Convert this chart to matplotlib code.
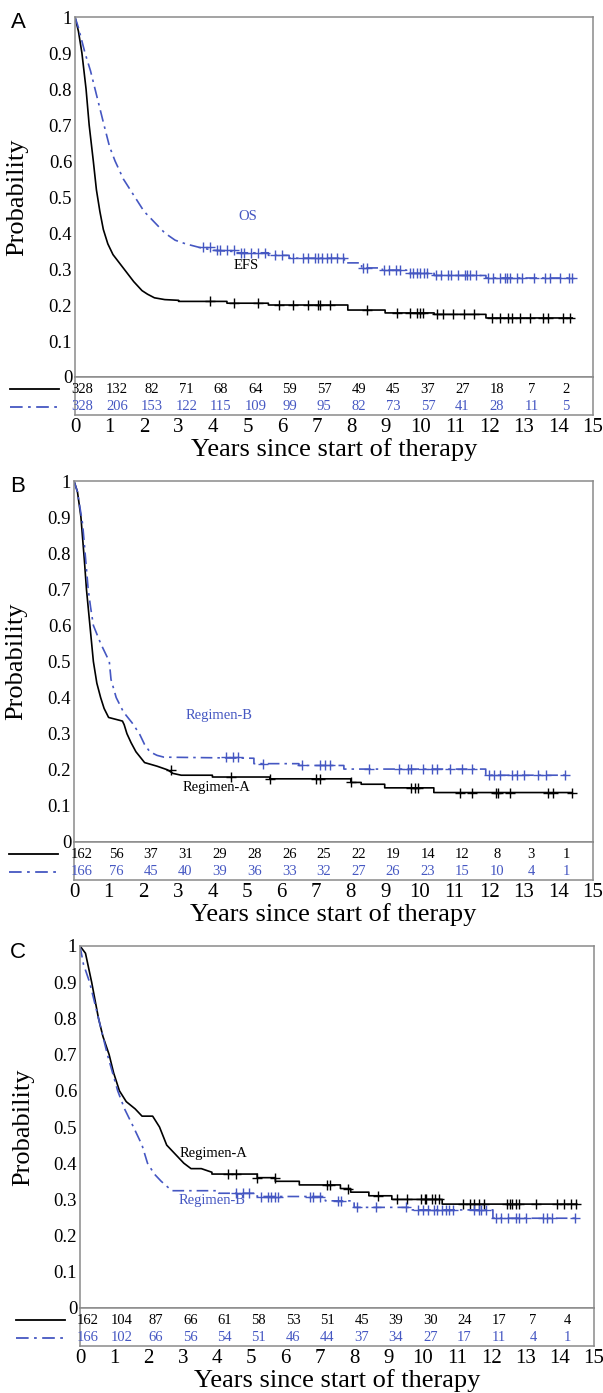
import matplotlib
matplotlib.use('Agg')
import matplotlib.pyplot as plt
import numpy as np
from matplotlib.lines import Line2D
from matplotlib.ticker import FuncFormatter

plt.rcParams['font.family'] = ['Liberation Serif', 'DejaVu Serif']

BLUE = '#4557c2'
GRAY = '#8a8a8a'
W, H = 603, 1393

years = list(range(15))

# ---- panel A : EFS / OS ----
efs_t = [0, 0.1, 0.2, 0.32, 0.41, 0.53, 0.62, 0.72, 0.82, 0.95, 1.1, 1.3, 1.5, 1.7, 1.94, 2.1, 2.3, 2.6,
         3.0, 3.0, 4.4, 4.4, 5.6, 5.6, 7.9, 7.9, 8.98, 8.98, 10.4, 10.4, 11.9, 11.9, 14.4]
efs_s = [1, 0.96, 0.9, 0.8, 0.7, 0.6, 0.52, 0.46, 0.41, 0.37, 0.34, 0.315, 0.29, 0.265, 0.24, 0.23, 0.22, 0.215,
         0.213, 0.21, 0.21, 0.205, 0.205, 0.2, 0.2, 0.186, 0.186, 0.178, 0.178, 0.174, 0.174, 0.164, 0.164]
efs_cens = [3.9, 4.6, 5.3, 5.9, 6.3, 6.76, 7.05, 7.1, 7.38, 8.45, 9.32, 9.7, 9.89, 9.99, 10.09, 10.47, 10.67,
            10.96, 11.25, 11.54, 12.07, 12.31, 12.55, 12.65, 12.89, 13.18, 13.56, 13.71, 14.14, 14.34]

os_t = [0, 0.1, 0.29, 0.45, 0.58, 0.84, 1.0, 1.16, 1.4, 1.6, 1.8, 2.0, 2.3, 2.6, 2.9, 3.2, 3.6, 4.0, 4.7, 4.7,
        5.6, 5.6, 6.2, 6.2, 7.8, 7.8, 8.3, 8.3, 8.9, 8.9, 9.6, 9.6, 10.4, 10.4, 11.9, 11.9, 14.4]
os_s = [1, 0.97, 0.9, 0.85, 0.8, 0.7, 0.64, 0.6, 0.55, 0.52, 0.49, 0.46, 0.43, 0.4, 0.38, 0.37, 0.36, 0.352,
        0.348, 0.345, 0.345, 0.338, 0.338, 0.33, 0.33, 0.317, 0.317, 0.303, 0.303, 0.297, 0.297, 0.288, 0.288,
        0.282, 0.282, 0.275, 0.275]
os_cens = [3.7, 3.9, 4.1, 4.2, 4.4, 4.6, 4.8, 4.9, 5.1, 5.3, 5.5, 5.8, 6.0, 6.3, 6.6, 6.76, 6.95, 7.05, 7.15,
           7.3, 7.4, 7.6, 7.75, 8.35, 8.45, 8.95, 9.1, 9.3, 9.4, 9.7, 9.8, 9.9, 10.0, 10.1, 10.2, 10.45, 10.6,
           10.8, 10.9, 11.1, 11.3, 11.35, 11.45, 11.6, 11.95, 12.1, 12.3, 12.45, 12.5, 12.6, 12.8, 12.95, 13.3,
           13.6, 13.75, 14.05, 14.3, 14.4]

risk_efs = [328, 132, 82, 71, 68, 64, 59, 57, 49, 45, 37, 27, 18, 7, 2]
risk_os = [328, 206, 153, 122, 115, 109, 99, 95, 82, 73, 57, 41, 28, 11, 5]

# ---- panel B : EFS by regimen ----
bA_t = [0, 0.1, 0.2, 0.3, 0.36, 0.46, 0.56, 0.66, 0.77, 0.87, 1.0, 1.4, 1.45, 1.53, 1.65, 1.79, 2.04, 2.4, 2.7,
        2.86, 3.1, 4.0, 4.0, 5.66, 5.66, 8.0, 8.0, 8.3, 8.3, 8.98, 8.98, 10.4, 10.4, 14.4]
bA_s = [1, 0.97, 0.9, 0.78, 0.7, 0.6, 0.5, 0.44, 0.4, 0.37, 0.345, 0.335, 0.325, 0.3, 0.275, 0.25, 0.22, 0.21,
        0.2, 0.19, 0.185, 0.185, 0.18, 0.18, 0.175, 0.175, 0.165, 0.165, 0.16, 0.16, 0.15, 0.15, 0.137, 0.137]
bA_cens = [2.8, 4.54, 5.66, 6.99, 7.1, 8.0, 9.74, 9.85, 9.95, 11.17, 11.5, 12.2, 12.25, 12.6, 13.7, 13.85, 14.4]

bB_t = [0, 0.1, 0.25, 0.41, 0.48, 0.56, 0.77, 0.92, 1.02, 1.07, 1.22, 1.43, 1.68, 1.89, 2.04, 2.19, 2.4, 2.6,
        5.2, 5.2, 6.5, 6.5, 7.8, 7.8, 11.9, 11.9, 14.3]
bB_s = [1, 0.97, 0.88, 0.7, 0.65, 0.6, 0.55, 0.52, 0.5, 0.45, 0.4, 0.36, 0.33, 0.3, 0.27, 0.25, 0.24, 0.235,
        0.232, 0.217, 0.217, 0.212, 0.212, 0.202, 0.202, 0.185, 0.185]
bB_cens = [4.4, 4.6, 4.75, 5.46, 6.6, 7.1, 7.25, 7.4, 8.52, 9.39, 9.64, 9.74, 10.1, 10.35, 10.5, 10.87, 11.2,
           11.5, 12.0, 12.15, 12.3, 12.65, 12.8, 13.0, 13.4, 13.65, 14.2]

risk_bA = [162, 56, 37, 31, 29, 28, 26, 25, 22, 19, 14, 12, 8, 3, 1]
risk_bB = [166, 76, 45, 40, 39, 36, 33, 32, 27, 26, 23, 15, 10, 4, 1]

# ---- panel C : OS by regimen ----
cA_t = [0, 0.16, 0.34, 0.54, 0.67, 0.85, 0.98, 1.15, 1.35, 1.61, 1.81, 2.12, 2.32, 2.53, 2.83, 3.03, 3.24, 3.54,
        3.85, 3.85, 5.17, 5.17, 5.7, 5.7, 6.4, 6.4, 7.6, 7.6, 7.9, 7.9, 8.43, 8.43, 9.1, 9.1, 10.57, 10.57, 14.5]
cA_s = [1, 0.98, 0.9, 0.8, 0.75, 0.7, 0.65, 0.6, 0.57, 0.55, 0.53, 0.53, 0.5, 0.45, 0.42, 0.4, 0.385, 0.385,
        0.375, 0.37, 0.37, 0.36, 0.36, 0.35, 0.35, 0.34, 0.34, 0.33, 0.33, 0.32, 0.32, 0.31, 0.31, 0.3, 0.3,
        0.287, 0.287]
cA_cens = [4.31, 4.56, 5.17, 5.68, 7.21, 7.31, 7.82, 8.69, 9.25, 9.55, 9.96, 10.06, 10.11, 10.27, 10.37, 10.47,
           11.18, 11.38, 11.49, 11.64, 11.79, 12.45, 12.56, 12.61, 12.71, 12.81, 13.32, 13.93, 14.13, 14.34, 14.48]

cB_t = [0, 0.1, 0.28, 0.54, 0.8, 0.95, 1.1, 1.3, 1.56, 1.81, 1.97, 2.17, 2.37, 2.68, 4.05, 4.05, 5.17, 5.17,
        7.16, 7.16, 8.0, 8.0, 9.65, 9.65, 12.05, 12.05, 14.5]
cB_s = [1, 0.95, 0.9, 0.8, 0.7, 0.65, 0.6, 0.55, 0.5, 0.45, 0.4, 0.37, 0.35, 0.324, 0.324, 0.317, 0.317, 0.308,
        0.308, 0.296, 0.296, 0.278, 0.278, 0.271, 0.271, 0.248, 0.248]
cB_cens = [4.56, 4.77, 4.92, 5.27, 5.48, 5.58, 5.68, 5.78, 6.7, 6.8, 7.0, 7.52, 7.62, 8.08, 8.64, 9.5, 9.86,
           10.01, 10.16, 10.32, 10.42, 10.57, 10.67, 10.77, 10.88, 11.49, 11.64, 11.69, 11.84, 12.15, 12.3,
           12.5, 12.71, 12.81, 13.01, 13.52, 13.62, 13.78, 14.44]

risk_cA = [162, 104, 87, 66, 61, 58, 53, 51, 45, 39, 30, 24, 17, 7, 4]
risk_cB = [166, 102, 66, 56, 54, 51, 46, 44, 37, 34, 27, 17, 11, 4, 1]

DASHDOT = (0, (7, 3, 1.5, 3))

fig = plt.figure(figsize=(W / 100, H / 100), dpi=100)


def censor_y(t, s, c):
    idx = np.searchsorted(np.asarray(t), np.asarray(c), side='right') - 1
    return np.asarray(s)[idx]


def draw_panel(left, right, top, bottom, tab_bottom, letter, black, blue, risk_k, risk_b, lab_k, lab_b):
    ax = fig.add_axes([left / W, 1 - bottom / H, (right - left) / W, (bottom - top) / H])
    tab = fig.add_axes([left / W, 1 - tab_bottom / H, (right - left) / W, (tab_bottom - bottom) / H])

    for (t, s, cens), color, ls in [(black, 'black', '-'), (blue, BLUE, DASHDOT)]:
        ax.plot(t, s, color=color, lw=1.2, ls=ls)
        ax.plot(cens, censor_y(t, s, cens), ls='none', marker='+', ms=6.5, mew=1.0, color=color)

    ax.set_xlim(0, 15)
    ax.set_ylim(0, 1)
    ax.set_yticks(np.arange(0, 1.01, 0.1))
    ax.yaxis.set_major_formatter(FuncFormatter(lambda v, p: '%g' % round(v, 1)))
    ax.set_xticks([])
    ax.tick_params(axis='y', length=0, pad=2, labelsize=13.5)
    ax.set_ylabel('Probability', fontsize=19)
    ax.yaxis.set_label_coords(-0.09, 0.5)

    ax.text(lab_k[0], lab_k[1], lab_k[2], color='black', fontsize=10.5, ha='center', va='center')
    ax.text(lab_b[0], lab_b[1], lab_b[2], color=BLUE, fontsize=10.5, ha='center', va='center')

    tab.set_xlim(0, 15)
    tab.set_ylim(0, 1)
    tab.set_yticks([])
    tab.set_xticks(range(16))
    tab.tick_params(axis='x', length=0, pad=2, labelsize=15)
    tab.set_xlabel('Years since start of therapy', fontsize=19, labelpad=1)
    for yr, nk, nb in zip(years, risk_k, risk_b):
        tab.text(yr + 0.22, 0.68, str(nk), color='black', fontsize=10.5, ha='center', va='center')
        tab.text(yr + 0.22, 0.22, str(nb), color=BLUE, fontsize=10.5, ha='center', va='center')

    tab.add_line(Line2D([-0.125, -0.03], [0.68, 0.68], transform=tab.transAxes, color='black',
                        lw=1.3, clip_on=False))
    tab.add_line(Line2D([-0.125, -0.03], [0.22, 0.22], transform=tab.transAxes, color=BLUE,
                        lw=1.3, ls=DASHDOT, clip_on=False))

    for a in (ax, tab):
        for sp in a.spines.values():
            sp.set_color(GRAY)
            sp.set_linewidth(1.1)

    fig.text(18 / W, 1 - (top + 6) / H, letter, fontsize=16, family='Liberation Sans', ha='center', va='center')


draw_panel(75, 593, 17, 377, 415, 'A', (efs_t, efs_s, efs_cens), (os_t, os_s, os_cens),
           risk_efs, risk_os, (4.95, 0.31, 'EFS'), (5.0, 0.445, 'OS'))
draw_panel(74, 593, 481, 842, 880, 'B', (bA_t, bA_s, bA_cens), (bB_t, bB_s, bB_cens),
           risk_bA, risk_bB, (4.13, 0.15, 'Regimen-A'), (4.2, 0.35, 'Regimen-B'))
draw_panel(80, 594, 946, 1308, 1346, 'C', (cA_t, cA_s, cA_cens), (cB_t, cB_s, cB_cens),
           risk_cA, risk_cB, (3.9, 0.428, 'Regimen-A'), (3.85, 0.298, 'Regimen-B'))

fig.savefig('out.png', dpi=100)
